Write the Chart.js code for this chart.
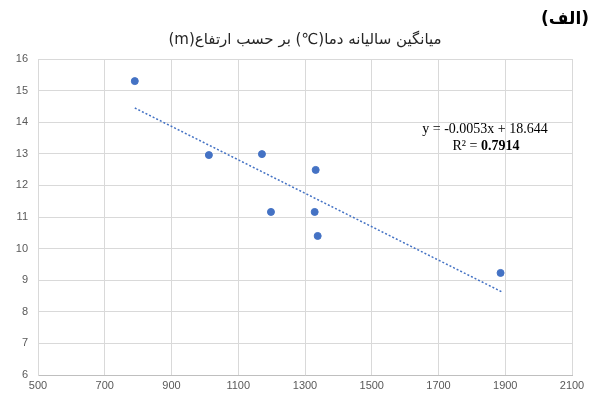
<!DOCTYPE html>
<html>
<head>
<meta charset="utf-8">
<script src="https://cdn.jsdelivr.net/npm/chart.js@4"></script>
<style>
  html, body { margin: 0; padding: 0; background: #fff; }
  #wrap { width: 598px; height: 396px; }
</style>
</head>
<body>
<div id="wrap"><canvas id="chart" width="598" height="396"></canvas></div>
<script>
// altitude (m) and mean annual temperature (°C)
const altitude = [790, 1012, 1171, 1198, 1332, 1329, 1338, 1886];
const meanTemp = [15.3, 12.96, 12.99, 11.16, 12.49, 11.16, 10.4, 9.23];

// trend line end points as drawn
const trendX = [790, 1890];
const trendY = [14.45, 8.63];

const xTicks = [500, 700, 900, 1100, 1300, 1500, 1700, 1900, 2100];
const yTicks = [6, 7, 8, 9, 10, 11, 12, 13, 14, 15, 16];

const chartTitle = "میانگین سالیانه دما(℃) بر حسب ارتفاع(m)";
const panelLabel = "(الف)";
const eqText = "y = -0.0053x + 18.644";
const r2Label = "R² = ";
const r2Value = "0.7914";

const blue = "#4472c4";

const toPoints = (xs, ys) => xs.map((x, i) => ({ x: x, y: ys[i] }));

const textPlugin = {
  id: "texts",
  afterDraw(chart) {
    const ctx = chart.ctx;
    const area = chart.chartArea;
    ctx.save();
    // title
    ctx.fillStyle = "#262626";
    ctx.font = "15px 'DejaVu Sans', sans-serif";
    ctx.textAlign = "center";
    ctx.textBaseline = "middle";
    ctx.direction = "rtl";
    ctx.fillText(chartTitle, (area.left + area.right) / 2, 40);
    // panel label
    ctx.font = "bold 17px 'DejaVu Sans', sans-serif";
    ctx.fillStyle = "#000";
    ctx.fillText(panelLabel, 565, 20);
    ctx.direction = "ltr";
    // trend equation
    ctx.font = "14px 'Liberation Serif', serif";
    ctx.fillStyle = "#000";
    ctx.textAlign = "center";
    ctx.fillText(eqText, 485, 129);
    const w1 = ctx.measureText(r2Label).width;
    ctx.font = "bold 14px 'Liberation Serif', serif";
    const w2 = ctx.measureText(r2Value).width;
    const startX = 486 - (w1 + w2) / 2;
    ctx.textAlign = "left";
    ctx.font = "14px 'Liberation Serif', serif";
    ctx.fillText(r2Label, startX, 146);
    ctx.font = "bold 14px 'Liberation Serif', serif";
    ctx.fillText(r2Value, startX + w1, 146);
    ctx.restore();
  }
};

const ctx = document.getElementById("chart").getContext("2d");
new Chart(ctx, {
  type: "scatter",
  data: {
    datasets: [
      {
        label: "temp",
        data: toPoints(altitude, meanTemp),
        backgroundColor: blue,
        borderColor: blue,
        pointRadius: 3.5,
        pointHoverRadius: 3.5,
      },
      {
        type: "line",
        label: "trend",
        data: toPoints(trendX, trendY),
        borderColor: blue,
        borderWidth: 1.5,
        borderDash: [2, 2],
        pointRadius: 0,
        fill: false,
      },
    ],
  },
  options: {
    responsive: false,
    animation: false,
    layout: { padding: { left: 0, right: 26, top: 59, bottom: 0 } },
    plugins: {
      legend: { display: false },
      title: { display: false },
      tooltip: { enabled: false },
    },
    scales: {
      x: {
        type: "linear",
        min: 500,
        max: 2100,
        afterBuildTicks: (axis) => { axis.ticks = xTicks.map((v) => ({ value: v })); },
        afterFit: (axis) => { axis.height = 21; },
        grid: { color: "#d9d9d9", drawTicks: false },
        border: { color: "#bfbfbf" },
        ticks: {
          color: "#595959",
          font: { family: "'Liberation Sans', sans-serif", size: 11 },
          padding: 4,
          maxRotation: 0,
          callback: (v) => String(v),
        },
      },
      y: {
        min: 6,
        max: 16,
        afterBuildTicks: (axis) => { axis.ticks = yTicks.map((v) => ({ value: v })); },
        afterFit: (axis) => { axis.width = 38; },
        grid: { color: "#d9d9d9", drawTicks: false },
        border: { color: "#d9d9d9" },
        ticks: {
          color: "#595959",
          font: { family: "'Liberation Sans', sans-serif", size: 11 },
          padding: 10,
          callback: (v) => String(v),
        },
      },
    },
  },
  plugins: [textPlugin],
});
</script>
</body>
</html>
